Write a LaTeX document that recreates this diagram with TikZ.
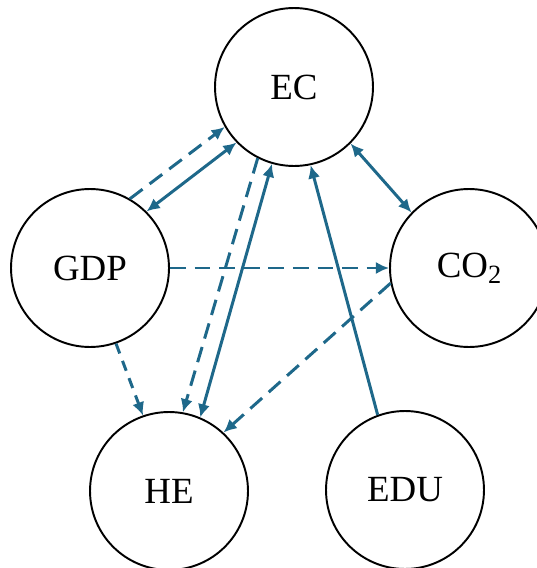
\documentclass[tikz,border=0pt]{standalone}
\usepackage{fontspec}
\setmainfont{Liberation Serif}
\usetikzlibrary{arrows.meta}
\definecolor{linkblue}{RGB}{30,104,138}

\begin{document}
\begin{tikzpicture}[x=0.02cm, y=-0.02cm,
        var/.style={circle, draw, line width=1.1pt, minimum size=3.16cm, inner sep=0pt, font=\fontsize{21}{25}\selectfont},
        link/.style={draw=linkblue, line width=1.7pt, -{Latex[length=7.5pt,width=7pt]}},
        both/.style={link, {Latex[length=7.5pt,width=7pt]}-{Latex[length=7.5pt,width=7pt]}},
        longdash/.style={dash pattern=on 9pt off 5pt},
        shortdash/.style={dash pattern=on 6pt off 4.5pt}]
        \useasboundingbox (0, 0) rectangle (537, 568);
        \node[var] (EC) at (294, 87) {EC};
        \node[var] (GDP) at (90, 268) {GDP};
        \node[var] (CO2) at (469, 268) {CO\raisebox{-0.35ex}{\fontsize{15}{15}\selectfont 2}};
        \node[var] (HE) at (169, 491) {HE};
        \node[var] (EDU) at (405, 490) {EDU};
        % links between the variables
        \draw[link, longdash] (GDP.60) -- (EC.210);
        \draw[both] (GDP.45) -- (EC.224);
        \draw[link, longdash] (EC.243) -- (HE.80);
        \draw[both] (EC.254) -- (HE.67);
        \draw[link] (EDU.110) -- (EC.282);
        \draw[both] (EC.315) -- (CO2.136);
        \draw[link, longdash] (GDP.east) -- (CO2.west);
        \draw[link, longdash] (CO2.191) -- (HE.47);
        \draw[link, shortdash] (GDP.289) -- (HE.109);
    \end{tikzpicture}
\end{document}
